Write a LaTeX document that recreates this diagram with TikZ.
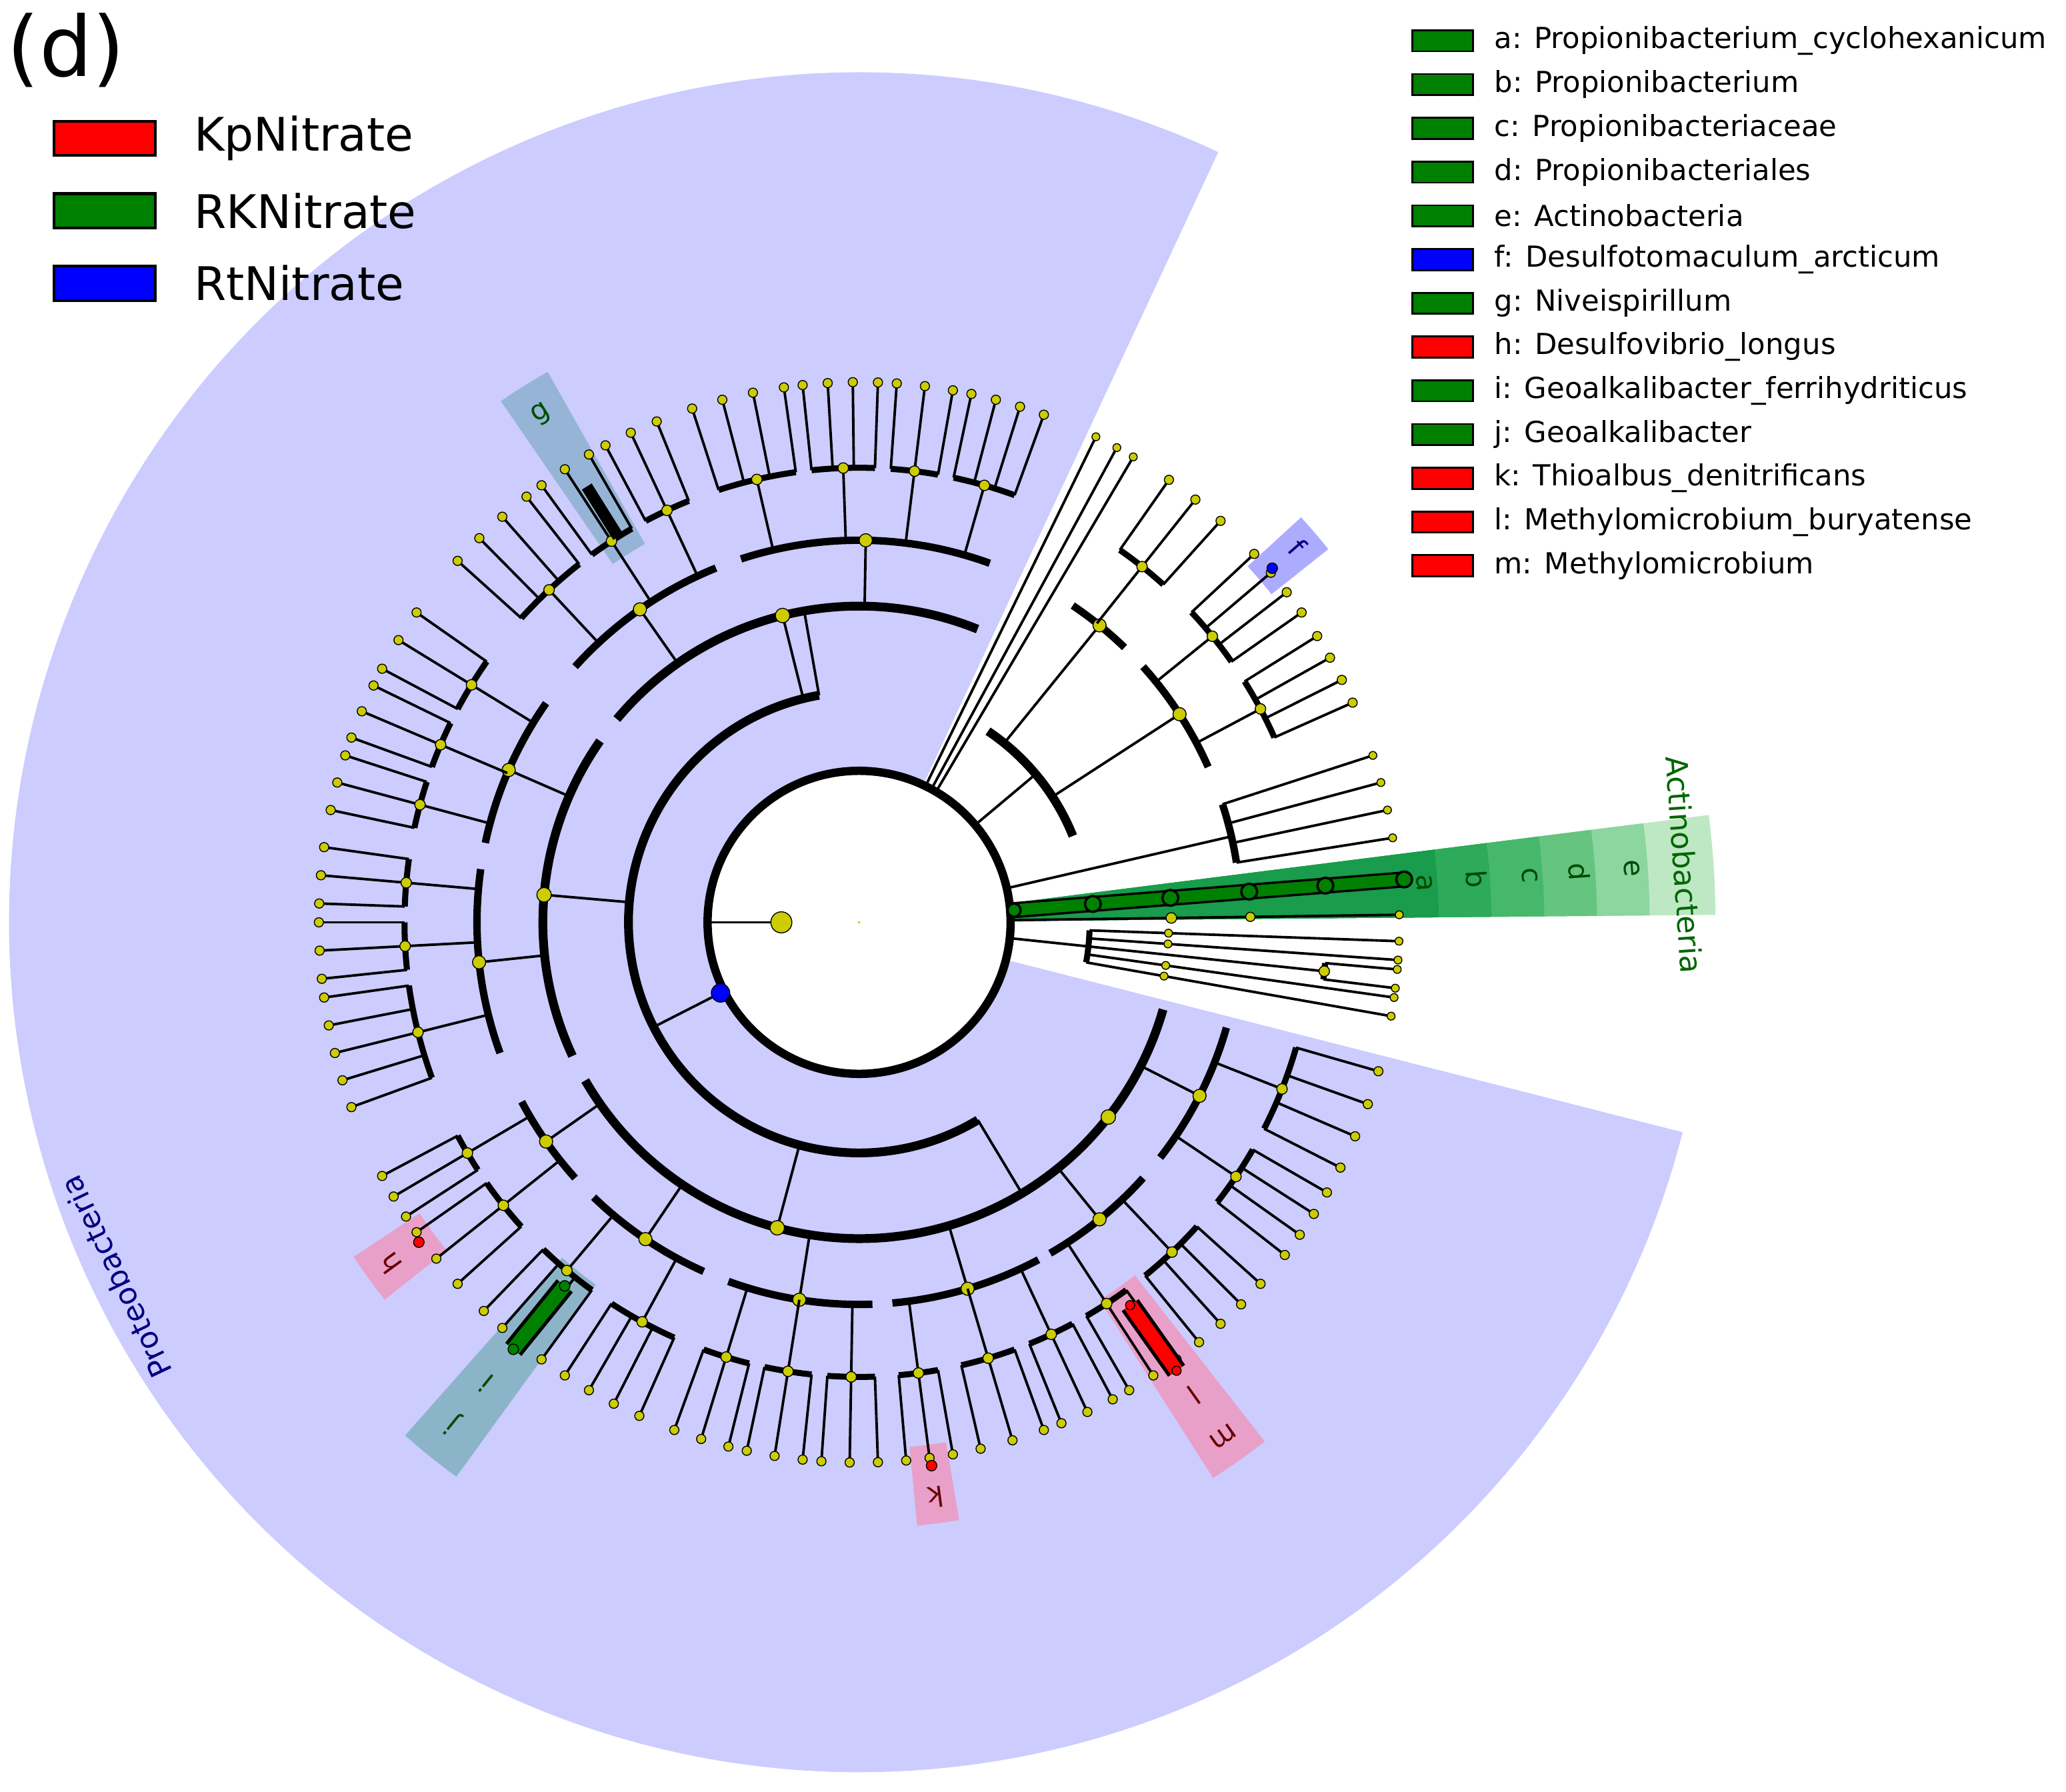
\documentclass[tikz,border=0pt]{standalone}
\usepackage{fontspec}
\setmainfont{DejaVu Sans}
\begin{document}
\begin{tikzpicture}[x=0.02cm,y=0.02cm,
  br/.style={line width=1.1pt,black},
  arcf/.style={line width=2.6pt,black},
  arco/.style={line width=3.2pt,black},
  arcc/.style={line width=3.8pt,black},
  dot/.style={fill=yel,draw=black,line width=0.4pt},
  lab/.style={font=\fontsize{12}{12}\selectfont},
  leg/.style={font=\fontsize{12.5}{14}\selectfont,anchor=west}]
\definecolor{yel}{RGB}{204,204,0}
\definecolor{lav}{RGB}{204,204,255}
\definecolor{gr}{RGB}{0,128,0}
\definecolor{g0}{RGB}{190,232,196}
\definecolor{g1}{RGB}{140,214,160}
\definecolor{g2}{RGB}{100,196,128}
\definecolor{g3}{RGB}{70,184,108}
\definecolor{g4}{RGB}{45,170,90}
\definecolor{g5}{RGB}{25,156,75}
\definecolor{gb}{RGB}{150,180,214}
\definecolor{tb}{RGB}{140,180,200}
\definecolor{pk}{RGB}{232,160,200}
\useasboundingbox (0,0) rectangle (1568,-1360);
\fill[white] (0,0) rectangle (1568,-1360);

\newcommand{\myhl}[5]{\fill[#5] (#1:#3) arc[start angle=#1,end angle=#2,radius=#3] -- (#2:#4) arc[start angle=#2,end angle=#1,radius=#4] -- cycle;}
\newcommand{\myfam}[4]{%
  \pgfmathsetmacro\mm{(#1+#2)/2}
  \draw[br] (\mm:#4) -- (\mm:345);
  \draw[arcf] (#1:345) arc[start angle=#1,end angle=#2,radius=345];
  \foreach \k in {1,...,#3}{\pgfmathsetmacro\aa{#1+(#2-#1)*(\k-1)/(#3-1)}
    \draw[br] (\aa:345) -- (\aa:410); \filldraw[dot] (\aa:410) circle (3.5);}
  \filldraw[dot] (\mm:345) circle (4);}
\newcommand{\myord}[3]{%
  \pgfmathsetmacro\mo{(#1+#2)/2}
  \draw[br] (\mo:#3) -- (\mo:290);
  \draw[arco] (#1:290) arc[start angle=#1,end angle=#2,radius=290];
  \filldraw[dot] (\mo:290) circle (5);}
\newcommand{\mycls}[2]{%
  \pgfmathsetmacro\mc{(#1+#2)/2}
  \draw[br] (\mc:175) -- (\mc:240);
  \draw[arcc] (#1:240) arc[start angle=#1,end angle=#2,radius=240];
  \filldraw[dot] (\mc:240) circle (5.5);}

\begin{scope}[shift={(652,-700)}]
\fill[lav] (0,0) -- (65:645) arc[start angle=65,end angle=345.7,radius=645] -- cycle;
\myhl{0.5}{7.2}{115}{650}{g0}
\myhl{0.5}{7.2}{115}{600}{g1}
\myhl{0.5}{7.2}{115}{560}{g2}
\myhl{0.5}{7.2}{115}{520}{g3}
\myhl{0.5}{7.2}{115}{480}{g4}
\myhl{0.5}{7.2}{115}{440}{g5}
\myhl{119.5}{124.5}{330}{480}{gb}
\myhl{213.5}{218.5}{400}{460}{pk}
\myhl{228.5}{234}{340}{520}{tb}
\myhl{275.5}{279.5}{400}{460}{pk}
\myhl{302.5}{308}{340}{500}{pk}
\myhl{38.5}{42.5}{400}{455}{lav!80!blue!90!white}
\fill[white] (0,0) circle (115);
\draw[line width=3.6pt] (0,0) circle (115);
\draw[br] (180:115) -- (180:59);
\filldraw[dot] (180:59) circle (8);
\fill[yel] (0,0) circle (1);
\draw[br] (207:118) -- (207:175);
\draw[arcc] (100:175) arc[start angle=100,end angle=301,radius=175];
\draw[br] (100:175) -- (100:240);
\mycls{68}{140}
\myord{70}{108}{240}
\myfam{70}{78}{4}{290}\myfam{80}{86}{3}{290}\myfam{88}{96}{4}{290}\myfam{98}{108}{4}{290}
\myord{112}{138}{240}
\myfam{112}{118}{3}{290}\myfam{120}{126}{3}{290}\myfam{128}{138}{4}{290}
\mycls{145}{205}
\myord{145}{168}{240}
\myfam{145}{152}{3}{290}\myfam{154}{160}{3}{290}\myfam{162}{168}{3}{290}
\myord{172}{200}{240}
\myfam{172}{178}{3}{290}\myfam{180}{186}{3}{290}\myfam{188}{200}{5}{290}
\mycls{210}{300}
\myord{208}{222}{240}
\myfam{208}{213}{3}{290}\myfam{215}{222}{3}{290}
\myord{226}{246}{240}
\myfam{226}{234}{4}{290}\myfam{237}{246}{4}{290}
\myord{250}{272}{240}
\myfam{250}{256}{3}{290}\myfam{258}{264}{3}{290}\myfam{266}{272}{3}{290}
\myord{275}{298}{240}
\myfam{275}{280}{3}{290}\myfam{283}{290}{3}{290}\myfam{292}{298}{3}{290}
\draw[br] (301:175) -- (301:240);
\draw[arcc] (300:240) arc[start angle=300,end angle=344,radius=240];
\filldraw[dot] (322:240) circle (5.5);
\myord{300}{318}{240}
\myfam{300}{306}{3}{290}\myfam{309}{318}{4}{290}
\myord{322}{344}{240}
\myfam{322}{330}{4}{290}\myfam{333}{344}{4}{290}
\filldraw[fill=blue,draw=black] (207:118) circle (7);
\foreach \a in {64,61.5,59.5}{\draw[br] (\a:118) -- (\a:410); \filldraw[dot] (\a:410) circle (3);}
\draw[br] (40:118) -- (40:175);
\draw[arcc] (22:175) arc[start angle=22,end angle=56,radius=175];
\myord{46}{56}{175}
\myfam{48}{55}{3}{290}
\myord{24}{42}{175}
\myfam{35}{43}{4}{290}\myfam{24}{32}{4}{290}
\draw[br] (13:118) -- (13:290);
\draw[arco] (9:290) arc[start angle=9,end angle=18,radius=290];
\foreach \a in {9,12,15,18}{\draw[br] (\a:290) -- (\a:410); \filldraw[dot] (\a:410) circle (3);}
\draw[br] (-6:118) -- (-6:175);
\draw[arcf] (-10:175) arc[start angle=-10,end angle=-2,radius=175];
\foreach \a in {-2,-4,-8,-10}{\draw[br] (\a:175) -- (\a:410); \filldraw[dot] (\a:410) circle (3);}
\foreach \a in {-2,-4,-8,-10}{\filldraw[dot] (\a:235) circle (3);}
\draw[br] (-6:175) -- (-6:355);
\draw[arcf] (-7:355) arc[start angle=-7,end angle=-5,radius=355];
\foreach \a in {-5,-7}{\draw[br] (\a:355) -- (\a:410); \filldraw[dot] (\a:410) circle (3);}
\filldraw[dot] (-6:355) circle (4);
\draw[br] (0.8:118) -- (0.8:410); \filldraw[dot] (0.8:410) circle (3);
\filldraw[dot] (0.8:237) circle (4);\filldraw[dot] (0.8:297) circle (3.5);
\draw[line width=7pt] (4.5:118) -- (4.5:415);
\draw[line width=5pt,gr] (4.5:118) -- (4.5:415);
\foreach \r/\s in {118/5,178/6,237/6,297/6,355/6,415/6}{\filldraw[fill=gr,draw=black,line width=1pt] (4.5:\r) circle (\s);}
\foreach \r/\t in {430/a,470/b,510/c,548/d,588/e}{\node[lab,text=green!30!black,rotate=-86] at (4:\r) {\t};}
\node[font=\fontsize{13}{13}\selectfont,text=green!40!black,rotate=-86] at (4:628) {Actinobacteria};
\node[font=\fontsize{13}{13}\selectfont,text=blue!50!black,rotate=115.5] at (205.5:625) {Proteobacteria};
\filldraw[fill=blue,draw=black] (40.6:413) circle (4);
\node[lab,text=blue!50!black,rotate=-49] at (40.6:438) {f};
\node[lab,text=green!30!black,rotate=32] at (122:455) {g};
\draw[line width=5pt] (122:345) -- (122:390);
\filldraw[fill=red,draw=black] (216:413) circle (4);
\node[lab,text=red!40!black,rotate=126] at (216:440) {h};
\draw[line width=9pt] (231:355) -- (231:417);
\draw[line width=6pt,gr] (231:355) -- (231:417);
\filldraw[fill=gr,draw=black] (231:417) circle (4);\filldraw[fill=gr,draw=black] (231:355) circle (4);
\node[lab,text=green!30!black,rotate=141] at (231:450) {i};
\node[lab,text=green!30!black,rotate=141] at (231:490) {j};
\filldraw[fill=red,draw=black] (277.6:416) circle (4);
\node[lab,text=red!40!black,rotate=187.6] at (277.6:440) {k};
\draw[line width=9pt] (305.3:356) -- (305.3:417);
\draw[line width=6pt,red] (305.3:356) -- (305.3:417);
\filldraw[fill=red,draw=black] (305.3:417) circle (3.5);\filldraw[fill=red,draw=black] (305.3:356) circle (3.5);
\node[lab,text=red!40!black,rotate=215.3] at (305.3:440) {l};
\node[lab,text=red!40!black,rotate=215.3] at (305.3:478) {m};
\end{scope}

\node[font=\fontsize{36}{36}\selectfont,anchor=west,inner sep=0pt] (d) at (5,-38) {(d)};
\foreach \y/\c/\t [count=\i] in {-105/red/KpNitrate,-160/gr/RKNitrate,-215/blue/RtNitrate}{
  \filldraw[fill=\c,draw=black,line width=1.2pt] (41,\y+13) rectangle (118,\y-13);
  \node[font=\fontsize{20}{20}\selectfont,anchor=west,inner sep=0pt] (L\i) at (147,\y) {\t};}
\foreach \c/\t [count=\i] in {gr/a: Propionibacterium\_cyclohexanicum,gr/b: Propionibacterium,gr/c: Propionibacteriaceae,gr/d: Propionibacteriales,gr/e: Actinobacteria,blue/f: Desulfotomaculum\_arcticum,gr/g: Niveispirillum,red/h: Desulfovibrio\_longus,gr/i: Geoalkalibacter\_ferrihydriticus,gr/j: Geoalkalibacter,red/k: Thioalbus\_denitrificans,red/l: Methylomicrobium\_buryatense,red/m: Methylomicrobium}{
  \pgfmathsetmacro\yy{-31-33.2*(\i-1)}
  \filldraw[fill=\c,draw=black,line width=0.8pt] (1072,\yy+8) rectangle (1118,\yy-8);
  \node[leg] (R\i) at (1128,\yy) {\t};}
\end{tikzpicture}
\end{document}
